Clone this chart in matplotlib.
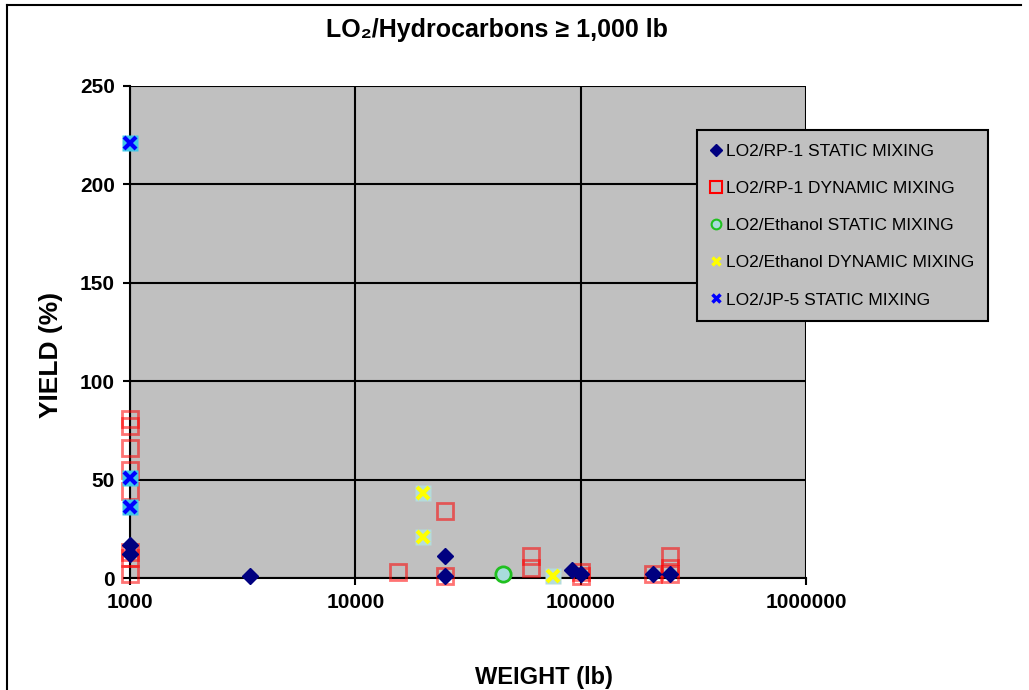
import matplotlib
matplotlib.use("Agg")
import matplotlib.pyplot as plt
import matplotlib.ticker as mticker
from matplotlib.lines import Line2D

plt.rcParams["font.family"] = ["Liberation Sans", "DejaVu Sans"]

# data
rp1_static_w = [1000, 1000, 3400, 25000, 25000, 91600, 100000, 210000, 250000]
rp1_static_y = [17, 12, 1, 11, 1, 4, 2, 2, 2]

rp1_dyn_w = [1000, 1000, 1000, 1000, 1000, 1000, 1000, 1000,
             15500, 25000, 25000, 60000, 60000, 100000, 100000,
             210000, 250000, 250000, 250000]
rp1_dyn_y = [81, 77, 66, 55, 44, 13, 10, 2,
             3, 34, 1, 11, 5, 3, 1,
             2, 11, 5, 2]

eth_static_w = [45000]
eth_static_y = [2]

eth_dyn_w = [20000, 20000, 75000]
eth_dyn_y = [43, 21, 1]

jp5_w = [1000, 1000, 1000]
jp5_y = [221, 51, 36]

x_ticks = [1000, 10000, 100000, 1000000]
y_ticks = [0, 50, 100, 150, 200, 250]

labels = [
    "LO2/RP-1 STATIC MIXING",
    "LO2/RP-1 DYNAMIC MIXING",
    "LO2/Ethanol STATIC MIXING",
    "LO2/Ethanol DYNAMIC MIXING",
    "LO2/JP-5 STATIC MIXING",
]

fig = plt.figure(figsize=(10.29, 6.9), dpi=100)
ax = fig.add_axes([0.1263, 0.1623, 0.6570, 0.7131])
ax.set_facecolor("#C0C0C0")
ax.set_xscale("log")
ax.set_xlim(1000, 1000000)
ax.set_ylim(0, 250)

ax.grid(True, which="major", color="black", linewidth=1.5)
ax.set_axisbelow(True)
for side in ["top", "right"]:
    ax.spines[side].set_visible(False)
for side in ["left", "bottom"]:
    ax.spines[side].set_linewidth(1.5)

# RP-1 dynamic: open red squares
ax.plot(rp1_dyn_w, rp1_dyn_y, ls="none", marker="s", ms=12, mfc="none",
        mec="#FF0000", mew=2, alpha=0.55, clip_on=False, zorder=3)
# RP-1 static: navy diamonds
ax.plot(rp1_static_w, rp1_static_y, ls="none", marker="D", ms=8,
        mfc="#000080", mec="#000080", clip_on=False, zorder=4)
# ethanol static: green circle
ax.plot(eth_static_w, eth_static_y, ls="none", marker="o", ms=11,
        mfc="#A8DCDC", mec="#20C020", mew=2, clip_on=False, zorder=4)
# ethanol dynamic: yellow x on pale square
ax.plot(eth_dyn_w, eth_dyn_y, ls="none", marker="s", ms=12,
        mfc="#B4DCDC", mec="none", clip_on=False, zorder=4)
ax.plot(eth_dyn_w, eth_dyn_y, ls="none", marker="x", ms=9,
        mec="#FFFF00", mew=3, clip_on=False, zorder=5)
# JP-5: blue x on cyan square
ax.plot(jp5_w, jp5_y, ls="none", marker="s", ms=12,
        mfc="#40C8E8", mec="none", clip_on=False, zorder=4)
ax.plot(jp5_w, jp5_y, ls="none", marker="x", ms=9,
        mec="#0000FF", mew=3, clip_on=False, zorder=5)

ax.set_xticks(x_ticks)
ax.xaxis.set_major_formatter(mticker.FuncFormatter(lambda v, p: "%d" % v))
ax.xaxis.set_minor_locator(mticker.NullLocator())
ax.set_yticks(y_ticks)
ax.tick_params(axis="both", direction="out", length=5, width=1.5,
               labelsize=15, pad=6)
for t in ax.get_xticklabels() + ax.get_yticklabels():
    t.set_fontweight("bold")

fig.text(0.483, 0.957, "LO\u2082/Hydrocarbons \u2265 1,000 lb", ha="center",
         va="center", fontsize=18, fontweight="bold")
fig.text(0.529, 0.018, "WEIGHT (lb)", ha="center", va="center",
         fontsize=17, fontweight="bold")
fig.text(0.050, 0.486, "YIELD (%)", ha="center", va="center",
         rotation=90, fontsize=19, fontweight="bold")

handles = [
    Line2D([], [], ls="none", marker="D", ms=6, mfc="#000080", mec="#000080"),
    Line2D([], [], ls="none", marker="s", ms=8, mfc="none", mec="#FF0000", mew=1.5),
    Line2D([], [], ls="none", marker="o", ms=7, mfc="#A8DCDC", mec="#20C020", mew=1.5),
    Line2D([], [], ls="none", marker="x", ms=6, mec="#FFFF00", mew=2.5),
    Line2D([], [], ls="none", marker="x", ms=6, mec="#0000FF", mew=2.5),
]
leg = fig.legend(handles, labels, loc="upper left",
                 bbox_to_anchor=(0.677, 0.812), fontsize=12.5,
                 frameon=True, fancybox=False, framealpha=1,
                 facecolor="#C0C0C0", edgecolor="black",
                 handlelength=0.6, handletextpad=0.3, labelspacing=1.27,
                 borderpad=0.8, borderaxespad=0)
leg.get_frame().set_linewidth(1.5)

# outer chart border
fig.add_artist(Line2D([0.007, 0.007], [0, 0.993], color="black", lw=1.5))
fig.add_artist(Line2D([0.007, 0.992], [0.993, 0.993], color="black", lw=1.5))

fig.savefig("out.png", dpi=100)
